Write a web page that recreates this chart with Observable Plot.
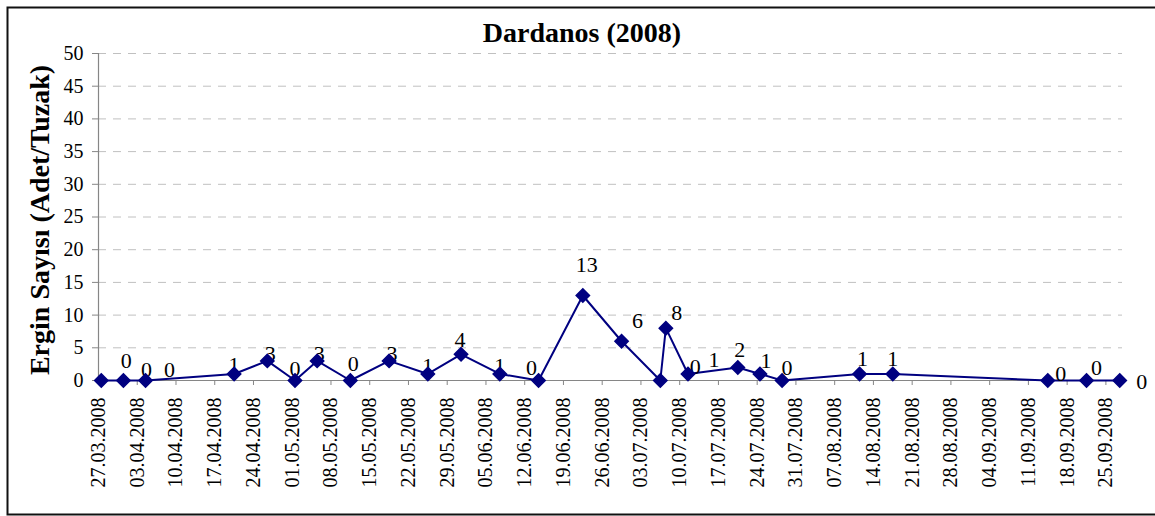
<!DOCTYPE html>
<html>
<head>
<meta charset="utf-8">
<script src="https://cdn.jsdelivr.net/npm/d3@7"></script>
<script src="https://cdn.jsdelivr.net/npm/@observablehq/plot@0.6"></script>
<style>
  html, body { margin: 0; padding: 0; background: #fff; }
  #chart { width: 1155px; height: 516px; }
  #chart svg text { font-family: "Liberation Serif", "Times New Roman", serif; }
</style>
</head>
<body>
<div id="chart"></div>
<script>
// ---- data ----
const chartTitle = "Dardanos (2008)";
const yTitle = "Ergin Sayısı (Adet/Tuzak)";
const sampleDates = [
  "27.03.2008", "31.03.2008", "04.04.2008", "20.04.2008", "26.04.2008",
  "01.05.2008", "05.05.2008", "11.05.2008", "18.05.2008", "25.05.2008",
  "31.05.2008", "07.06.2008", "14.06.2008", "22.06.2008", "29.06.2008",
  "06.07.2008", "07.07.2008", "11.07.2008", "20.07.2008", "24.07.2008",
  "28.07.2008", "11.08.2008", "17.08.2008", "14.09.2008", "21.09.2008",
  "27.09.2008"
];
const counts = [
  0, 0, 0, 1, 3,
  0, 3, 0, 3, 1,
  4, 1, 0, 13, 6,
  0, 8, 1, 2, 1,
  0, 1, 1, 0, 0,
  0
];
const xTickLabels = [
  "27.03.2008", "03.04.2008", "10.04.2008", "17.04.2008", "24.04.2008",
  "01.05.2008", "08.05.2008", "15.05.2008", "22.05.2008", "29.05.2008",
  "05.06.2008", "12.06.2008", "19.06.2008", "26.06.2008", "03.07.2008",
  "10.07.2008", "17.07.2008", "24.07.2008", "31.07.2008", "07.08.2008",
  "14.08.2008", "21.08.2008", "28.08.2008", "04.09.2008", "11.09.2008",
  "18.09.2008", "25.09.2008"
];
const yTicks = [0, 5, 10, 15, 20, 25, 30, 35, 40, 45, 50];

// ---- build ----
const parse = d3.utcParse("%d.%m.%Y");
const fmt = d3.utcFormat("%d.%m.%Y");
// Excel date axis: each point sits in the middle of its day slot
const data = sampleDates.map((s, i) => ({
  date: d3.utcHour.offset(parse(s), 12),
  value: counts[i]
}));
const xTicks = xTickLabels.map(parse);
const xDomain = [parse(sampleDates[0]), d3.utcDay.offset(parse(sampleDates[sampleDates.length - 1]), 1)];

// label placement (manual nudges like the original's hand-placed data labels)
const labelNudge = [
  [25, -13], [23, -4], [24, -4], [0, -2], [3, 0],
  [0, -5], [2, 0], [3, -10], [3, 0], [0, -1],
  [-1, -7], [0, -1], [-7, -6], [4, -23], [16, -13],
  [35, -7], [11, -8], [26, -7], [2, -10], [6, -6],
  [5, -6], [3, -8], [0, -8], [13, 0], [10, -6],
  [22, 8]
];

const FONT = "Liberation Serif";
const NAVY = "#000080";
const AXIS = "#868686";

const labelMarks = data.map((d, k) => Plot.text([d], {
  x: "date", y: "value", text: (p) => String(p.value),
  dx: labelNudge[k][0], dy: labelNudge[k][1],
  lineAnchor: "bottom", fontSize: 22, fontFamily: FONT, fill: "black"
}));

const plot = Plot.plot({
  width: 1155,
  height: 516,
  marginLeft: 98,
  marginRight: 33,
  marginTop: 53,
  marginBottom: 136,
  style: { fontFamily: FONT, fontSize: "20px", background: "white", color: "black", overflow: "visible" },
  x: { type: "utc", domain: xDomain },
  y: { domain: [0, 50] },
  marks: [
    Plot.gridY(yTicks.slice(1), { stroke: "#c0c0c0", strokeOpacity: 1, strokeDasharray: "8,7" }),
    Plot.ruleY([0], { stroke: AXIS, strokeWidth: 1.2 }),
    Plot.ruleX([xDomain[0]], { stroke: AXIS, strokeWidth: 1.2 }),
    Plot.axisY({ ticks: yTicks, tickSize: 6, tickPadding: 9, stroke: AXIS, fill: "black", label: null, fontSize: 20, fontFamily: FONT }),
    Plot.axisX({ ticks: xTicks, tickFormat: fmt, tickRotate: -90, tickSize: 5, tickPadding: 12, stroke: AXIS, fill: "black", label: null, fontSize: 20, fontFamily: FONT }),
    Plot.line(data, { x: "date", y: "value", stroke: NAVY, strokeWidth: 2 }),
    ...labelMarks,
    Plot.dot(data, { x: "date", y: "value", symbol: "diamond2", r: 6, fill: NAVY, stroke: NAVY })
  ]
});

const svg = d3.select(plot);
// outer chart frame
svg.append("rect")
  .attr("x", 7.5).attr("y", 7.5).attr("width", 1160).attr("height", 507)
  .attr("fill", "none").attr("stroke", "#111").attr("stroke-width", 2);
// title
svg.append("text")
  .attr("x", 582).attr("y", 42)
  .attr("text-anchor", "middle")
  .attr("font-family", FONT).attr("font-weight", "bold").attr("font-size", 28)
  .attr("fill", "black")
  .text(chartTitle);
// y axis title
svg.append("text")
  .attr("transform", "translate(49,220) rotate(-90)")
  .attr("text-anchor", "middle")
  .attr("font-family", FONT).attr("font-weight", "bold").attr("font-size", 28)
  .attr("fill", "black")
  .text(yTitle);

document.getElementById("chart").appendChild(plot);
</script>
</body>
</html>
